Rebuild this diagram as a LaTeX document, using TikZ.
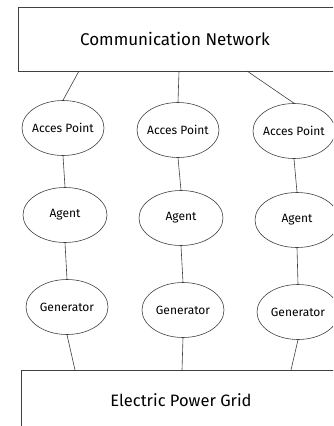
\documentclass[tikz,border=0pt]{standalone}
\usepackage{fontspec}
\setmainfont{Fira Sans}
\tikzset{
  elli/.style={draw=black!75, ellipse, line width=0.6pt, minimum width=82pt, minimum height=55pt, inner sep=0pt},
  box/.style={draw=black!75, line width=0.7pt, rectangle, anchor=north west, inner sep=0pt},
  wire/.style={draw=black!75, line width=0.6pt},
  lbl/.style={font=\fontsize{12}{14}\selectfont}
}
\usetikzlibrary{shapes.geometric}
\begin{document}
\begin{tikzpicture}[x=1pt, y=-1pt]
	\useasboundingbox (0,0) rectangle (333,426);
	\clip (0,0) rectangle (333,426);
	% boxes
	\node[box, minimum width=340pt, minimum height=64pt] (cn) at (18,7) {};
	\node[font=\fontsize{17}{20}\selectfont] at (175,39) {Communication Network};
	\node[box, minimum width=340pt, minimum height=70pt] (grid) at (21,370) {};
	\node[font=\fontsize{16.5}{20}\selectfont] at (181,400) {Electric Power Grid};
	% ellipses
	\foreach \n/\x/\y in {1/63/128, 2/178/130, 3/294/131}
		\node[elli, label={[lbl]center:Acces Point}] (ap\n) at (\x,\y) {};
	\foreach \n/\x/\y in {1/65/215, 2/181/218, 3/297/220}
		\node[elli, minimum width=84pt, label={[lbl]center:Agent}] (ag\n) at (\x,\y) {};
	\foreach \n/\x/\y in {1/67/307, 2/183/310, 3/298/312}
		\node[elli, label={[lbl]center:Generator}] (gen\n) at (\x,\y) {};
	% connectors
	\coordinate (c1) at (79,71); \coordinate (c2) at (179,71); \coordinate (c3) at (247,71);
	\coordinate (g1) at (75,370); \coordinate (g2) at (182,370); \coordinate (g3) at (291,370);
	\draw[wire] (c1) -- (ap1.north) (c2) -- (ap2.north) (c3) -- (ap3.north);
	\foreach \n in {1,2,3} {
		\draw[wire] (ap\n.south) -- (ag\n.north);
		\draw[wire] (ag\n.south) -- (gen\n.north);
		\draw[wire] (gen\n.south) -- (g\n);
	}
\end{tikzpicture}
\end{document}
